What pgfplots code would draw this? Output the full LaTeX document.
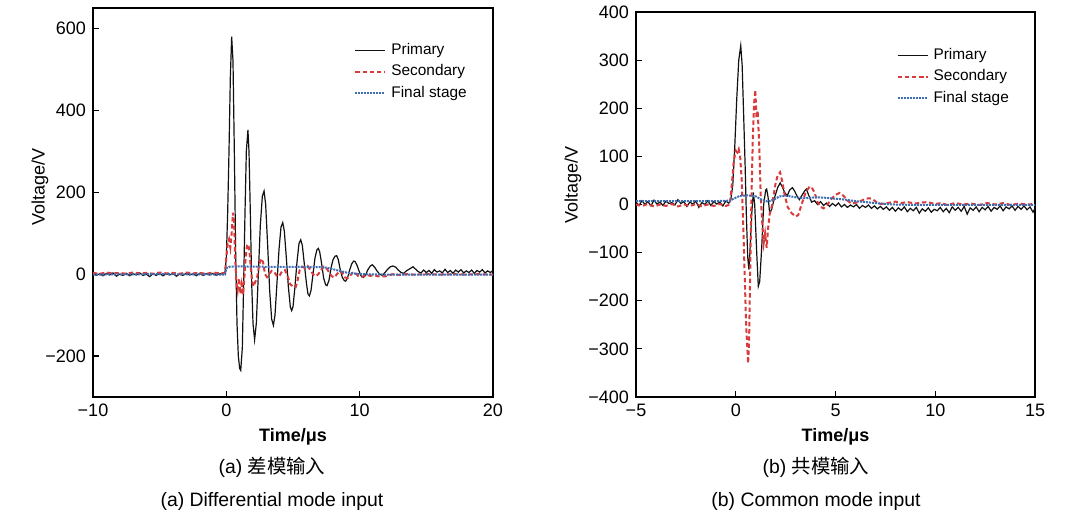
\documentclass[border=0pt]{standalone}
\usepackage{fontspec}
\setmainfont{Liberation Sans}
\newfontfamily\cjk{Noto Sans CJK SC}
\usepackage{pgfplots}
\pgfplotsset{compat=1.18}
\definecolor{pri}{HTML}{111111}
\definecolor{sec}{HTML}{D93A3A}
\definecolor{fin}{HTML}{3D6DB3}

\pgfplotsset{
  wave/.style={
    scale only axis,
    axis line style={line width=1pt},
    tick align=inside, xtick pos=bottom, ytick pos=left,
    major tick length=3pt,
    tick style={black, line width=0.6pt},
    ticklabel style={font=\fontsize{9}{10}\selectfont},
    label style={font=\fontsize{9}{10}\selectfont},
    legend cell align=left,
    legend style={draw=none, fill=none, anchor=north west, inner sep=0pt,
      font=\fontsize{7.7}{9}\selectfont, row sep=2.4pt, column sep=2pt,
      nodes={inner sep=0.5pt, text height=5.6pt, text depth=1.7pt}},
    legend image code/.code={\draw[#1] (0pt,0pt) -- (15pt,0pt);},
  },
  prim/.style={pri, line width=0.6pt},
  seco/.style={sec, line width=1pt, dash pattern=on 2.2pt off 1.4pt},
  fina/.style={fin, line width=1pt, dash pattern=on 1pt off 0.5pt},
}

\begin{document}
\begin{tikzpicture}
\path[use as bounding box] (0,0) rectangle (540pt,259.5pt);

% (a) differential mode
\begin{axis}[wave, at={(46.5pt,61pt)}, anchor=south west,
    width=200pt, height=194.5pt,
    xmin=-10, xmax=20, ymin=-300, ymax=650,
    xtick={-10,0,10,20}, xticklabels={−10,0,10,20},
    ytick={-200,0,200,400,600}, yticklabels={−200,0,200,400,600},
    xlabel={\bfseries Time/μs}, ylabel={Voltage/V},
    xlabel style={at={(axis description cs:0.5,-0.103)}, anchor=center},
    ylabel style={at={(axis description cs:-0.1325,0.54)}, anchor=center},
    legend style={at={(0.6525,0.913)}},
  ]
\addplot[prim] coordinates {
(-10,2) (-9.75,-3) (-9.5,1) (-9.25,-4) (-9,2) (-8.75,-2) (-8.5,3) (-8.25,-5)
(-8,0) (-7.75,-3) (-7.5,2) (-7.25,-4) (-7,1) (-6.75,-2) (-6.5,3) (-6.25,-3)
(-6,0) (-5.75,-6) (-5.5,1) (-5.25,-3) (-5,2) (-4.75,-4) (-4.5,1) (-4.25,-2)
(-4,2) (-3.75,-5) (-3.5,0) (-3.25,-3) (-3,2) (-2.75,-2) (-2.5,1) (-2.25,-4)
(-2,2) (-1.75,-3) (-1.5,1) (-1.25,-2) (-1,2) (-0.75,-3) (-0.5,1) (-0.25,0)
(-0.1,5) (0,40) (0.1,150) (0.2,300) (0.3,480) (0.4,580) (0.5,520) (0.6,300)
(0.7,50) (0.8,-120) (0.9,-200) (1.0,-230) (1.08,-235) (1.2,-180) (1.3,-20)
(1.4,150) (1.5,300) (1.62,352) (1.7,300) (1.8,150) (1.9,-20) (2.0,-120)
(2.12,-160) (2.25,-120) (2.4,0) (2.55,120) (2.7,190) (2.83,203) (2.95,170)
(3.1,70) (3.25,-40) (3.4,-110) (3.53,-125) (3.65,-100) (3.8,-20) (3.95,60)
(4.1,115) (4.23,126) (4.35,105) (4.5,40) (4.65,-30) (4.8,-80) (4.9,-89)
(5.0,-80) (5.15,-30) (5.3,30) (5.45,75) (5.58,84) (5.7,70) (5.85,25)
(6.0,-20) (6.12,-48) (6.23,-53) (6.35,-40) (6.5,0) (6.65,40) (6.8,60)
(6.9,63) (7.0,55) (7.15,25) (7.3,-10) (7.45,-26) (7.55,-28) (7.7,-15)
(7.85,15) (8.0,35) (8.15,44) (8.28,45) (8.4,35) (8.55,10) (8.7,-8)
(8.85,-16) (8.95,-17) (9.1,-8) (9.25,10) (9.4,25) (9.55,32) (9.65,31)
(9.8,22) (9.95,8) (10.1,-4) (10.28,-8) (10.45,-2) (10.6,10) (10.8,20)
(10.95,23) (11.1,18) (11.3,8) (11.5,0) (11.7,-3) (11.9,4) (12.1,12)
(12.3,18) (12.5,20) (12.7,17) (12.9,10) (13.1,4) (13.3,2) (13.5,8)
(13.8,14) (14.0,18) (14.2,12) (14.4,6) (14.6,3) (14.8,10) (15,4) (15.2,9)
(15.4,2) (15.6,11) (15.8,5) (16,8) (16.2,3) (16.4,12) (16.6,4) (16.8,9)
(17,2) (17.2,10) (17.4,5) (17.6,11) (17.8,3) (18,8) (18.2,4) (18.4,10)
(18.6,2) (18.8,9) (19,5) (19.2,11) (19.4,3) (19.6,8) (19.8,4) (20,9)
};
\addlegendentry{Primary}
\addplot[seco] coordinates {
(-10,3) (-9.5,1) (-9,4) (-8.5,2) (-8,3) (-7.5,1) (-7,4) (-6.5,2) (-6,3)
(-5.5,1) (-5,4) (-4.5,2) (-4,3) (-3.5,1) (-3,4) (-2.5,2) (-2,3) (-1.5,1)
(-1,4) (-0.5,2) (-0.1,3) (0,40) (0.1,75) (0.2,85) (0.3,65) (0.4,100)
(0.5,150) (0.58,130) (0.65,50) (0.75,-20) (0.85,-40) (0.95,-10) (1.05,-48)
(1.15,-25) (1.25,-50) (1.35,-10) (1.45,40) (1.55,70) (1.65,73) (1.75,50)
(1.85,10) (1.95,-20) (2.05,-30) (2.15,-20) (2.3,-10) (2.45,20) (2.6,38)
(2.75,30) (2.9,0) (3.05,-7) (3.2,0) (3.4,8) (3.6,5) (3.8,-5) (4.0,-3)
(4.2,8) (4.4,10) (4.6,-5) (4.8,-25) (5.0,-30) (5.2,-32) (5.35,-15) (5.5,10)
(5.7,18) (5.9,15) (6.1,20) (6.3,10) (6.5,0) (6.7,-5) (6.9,0) (7.1,10)
(7.3,18) (7.5,15) (7.7,5) (7.9,-5) (8.1,-8) (8.3,0) (8.5,8) (8.7,3)
(8.9,-8) (9.1,-10) (9.3,-3) (9.5,5) (9.7,2) (9.9,-5) (10.2,-6) (10.5,-2)
(10.8,-4) (11.1,-3) (11.5,-6) (12,-5) (12.5,0) (13,-2) (13.5,0) (14,-1)
(15,0) (16,-1) (17,0) (18,-1) (19,0) (20,-1)
};
\addlegendentry{Secondary}
\addplot[fina] coordinates {
(-10,-1) (-5,0) (-0.1,-1) (0,14) (0.2,18) (1,19) (3,18) (5,18) (7,17)
(7.5,16) (8,12) (8.5,8) (9,4) (9.5,2) (10,0) (12,-1) (15,-1) (20,-1)
};
\addlegendentry{Final stage}
\end{axis}

% (b) common mode
\begin{axis}[wave, at={(318pt,61pt)}, anchor=south west,
    width=199.5pt, height=192.5pt,
    xmin=-5, xmax=15, ymin=-400, ymax=400,
    xtick={-5,0,5,10,15}, xticklabels={−5,0,5,10,15},
    ytick={-400,-300,-200,-100,0,100,200,300,400},
    yticklabels={−400,−300,−200,−100,0,100,200,300,400},
    xlabel={\bfseries Time/μs}, ylabel={Voltage/V},
    xlabel style={at={(axis description cs:0.5,-0.104)}, anchor=center},
    ylabel style={at={(axis description cs:-0.158,0.55)}, anchor=center},
    legend style={at={(0.652,0.91)}},
  ]
\addplot[prim] coordinates {
(-5,5) (-4.85,-2) (-4.7,8) (-4.55,0) (-4.4,6) (-4.25,-3) (-4.1,9) (-3.95,1)
(-3.8,5) (-3.65,-2) (-3.5,7) (-3.35,2) (-3.2,4) (-3.05,-1) (-2.9,10)
(-2.75,2) (-2.6,6) (-2.45,-4) (-2.3,5) (-2.15,1) (-2.0,7) (-1.85,-6)
(-1.7,4) (-1.55,0) (-1.4,8) (-1.25,-2) (-1.1,6) (-0.95,1) (-0.8,5)
(-0.65,-3) (-0.5,7) (-0.35,3) (-0.25,10) (-0.15,40) (-0.05,120) (0.05,220)
(0.15,300) (0.25,330) (0.32,290) (0.4,180) (0.47,80) (0.53,-20) (0.6,-110)
(0.66,-135) (0.72,-90) (0.8,-20) (0.88,25) (0.95,0) (1.05,-100) (1.13,-170)
(1.2,-160) (1.3,-90) (1.4,0) (1.5,30) (1.55,32) (1.62,15) (1.7,-18)
(1.8,-10) (1.95,15) (2.1,35) (2.23,45) (2.35,35) (2.45,25) (2.58,18)
(2.7,30) (2.84,35) (2.95,28) (3.1,15) (3.19,10) (3.3,18) (3.45,28)
(3.54,32) (3.65,20) (3.8,5) (3.95,8) (4.1,0) (4.25,6) (4.4,-2) (4.55,3)
(4.7,-4) (4.85,2) (5.0,-3) (5.15,3) (5.3,-5) (5.45,0) (5.6,-6) (5.75,-1)
(5.9,-5) (6.05,0) (6.2,-8) (6.35,-2) (6.5,-6) (6.65,-1) (6.8,-8) (6.95,-3)
(7.1,-9) (7.25,-4) (7.4,-10) (7.55,-5) (7.7,-12) (7.85,-6) (8.0,-14)
(8.15,-7) (8.3,-12) (8.45,-5) (8.6,-15) (8.75,-8) (8.9,-13) (9.05,-6)
(9.2,-18) (9.35,-9) (9.5,-14) (9.65,-7) (9.8,-16) (9.95,-10) (10.1,-13)
(10.25,-6) (10.4,-15) (10.55,-8) (10.7,-17) (10.85,-5) (11.0,-12)
(11.15,-6) (11.3,-14) (11.45,-4) (11.6,-20) (11.75,-7) (11.9,-12)
(12.05,-5) (12.2,-15) (12.35,-6) (12.5,-11) (12.65,-4) (12.8,-14)
(12.95,-6) (13.1,-10) (13.25,-3) (13.4,-13) (13.55,-5) (13.7,-9)
(13.85,-3) (14.0,-12) (14.15,-4) (14.3,-10) (14.45,-3) (14.6,-11)
(14.75,-5) (14.9,-16) (15,-8)
};
\addlegendentry{Primary}
\addplot[seco] coordinates {
(-5,0) (-4.7,-3) (-4.4,1) (-4.1,-4) (-3.8,0) (-3.5,-3) (-3.2,1) (-2.9,-4)
(-2.6,0) (-2.3,-3) (-2.0,1) (-1.7,-4) (-1.4,0) (-1.1,-3) (-0.8,1) (-0.5,-3)
(-0.3,0) (-0.2,40) (-0.1,90) (0,112) (0.08,108) (0.15,115) (0.22,100)
(0.3,50) (0.38,-50) (0.45,-150) (0.52,-250) (0.62,-330) (0.67,-280)
(0.72,-150) (0.78,0) (0.85,130) (0.92,210) (0.98,238) (1.04,180)
(1.1,195) (1.18,120) (1.25,20) (1.33,-40) (1.4,-80) (1.47,-60) (1.55,-90)
(1.62,-50) (1.7,-20) (1.8,-5) (1.9,20) (2.0,45) (2.1,60) (2.22,67)
(2.32,50) (2.45,20) (2.6,-5) (2.8,-18) (3.0,-25) (3.13,-22) (3.3,0)
(3.5,25) (3.7,37) (3.8,36) (3.95,25) (4.1,5) (4.25,-5) (4.4,-8) (4.6,0)
(4.8,12) (5.0,20) (5.2,24) (5.4,18) (5.6,8) (5.8,2) (5.95,3) (6.2,6)
(6.5,12) (6.7,13) (6.9,10) (7.1,3) (7.3,1) (7.6,3) (8.0,6) (8.3,3) (8.6,5)
(9.0,2) (9.3,4) (9.6,5) (10.0,1) (10.3,3) (10.6,-1) (11.0,3) (11.4,0)
(11.8,2) (12.2,-1) (12.6,3) (13.0,0) (13.4,3) (13.8,-1) (14.2,2) (14.6,0)
(15,1)
};
\addlegendentry{Secondary}
\addplot[fina] coordinates {
(-5,7) (-3,7) (-1,7) (-0.3,8) (-0.1,12) (0.2,18) (0.6,19) (1.0,17)
(1.3,10) (1.6,6) (1.9,10) (2.2,17) (2.6,18) (3.0,15) (3.5,13) (4.0,15)
(4.5,14) (5.0,12) (5.5,10) (6.0,7) (6.5,5) (7.0,3) (7.5,1) (8.0,0)
(9.0,-1) (10,-1) (12,-1) (15,-1)
};
\addlegendentry{Final stage}
\end{axis}

\node[font=\fontsize{9.7}{12}\selectfont] at (136pt,26pt) {(a) {\cjk 差模输入}};
\node[font=\fontsize{9.7}{12}\selectfont] at (136pt,9pt) {(a) Differential mode input};
\node[font=\fontsize{9.7}{12}\selectfont] at (408pt,26pt) {(b) {\cjk 共模输入}};
\node[font=\fontsize{9.7}{12}\selectfont] at (408pt,9pt) {(b) Common mode input};
\end{tikzpicture}
\end{document}
